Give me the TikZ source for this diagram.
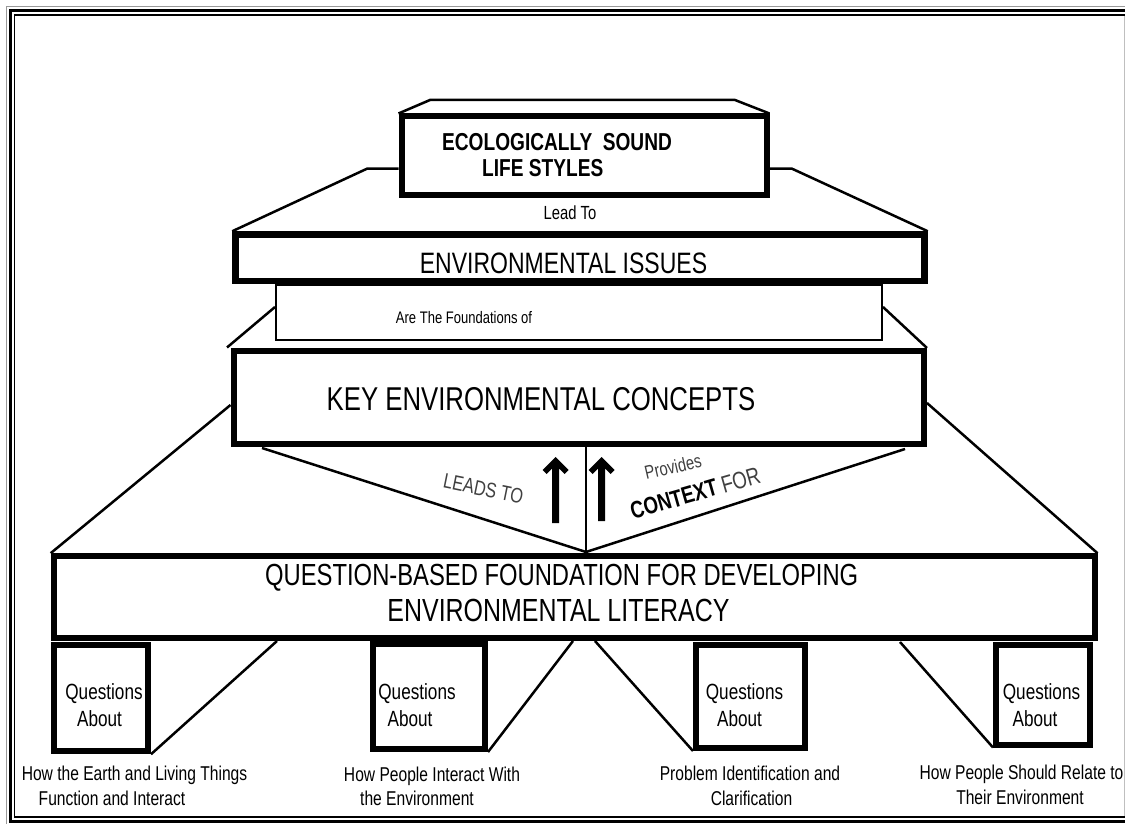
\documentclass[tikz,border=0pt]{standalone}
\usepackage{fontspec}
\setmainfont{Liberation Sans}[FakeStretch=0.78]
\newcommand\fsz[1]{\fontsize{#1}{#1}\selectfont}
\tikzset{
  box/.style={draw, line width=6pt, inner sep=0pt},
  thinbox/.style={draw, line width=2pt, inner sep=0pt},
  conn/.style={line width=2.5pt},
  lbl/.style={inner sep=0pt, anchor=base},
  qtext/.style={lbl, font=\fsz{22}},
  btext/.style={lbl, font=\fsz{20}},
  uparrow/.style={fill=black}
}
\begin{document}
\begin{tikzpicture}[x=1pt,y=-1pt]
\useasboundingbox (0,0) rectangle (1125,824);
% frame
\draw[black!40, line width=1.2pt] (1125,6.5) -- (6.5,6.5) -- (6.5,824.5) -- (1125,824.5);
\draw[line width=3pt] (1125,10.5) -- (10.5,10.5) -- (10.5,821) -- (1125,821);
\draw[line width=1.6pt] (1125,15) -- (14.5,15) -- (14.5,817) -- (1125,817);
\draw[black!25, line width=1pt] (1124.5,16) -- (1124.5,816);

% top box
\node[box, minimum width=365, minimum height=78.5] (els) at (584,155.75) {};
\draw[conn] (els.north west) -- (430,100) -- (735,100) -- (els.north east);
\node[lbl, anchor=base west, font=\bfseries\fsz{24.5}] (elst1) at (442,150) {ECOLOGICALLY\ \ SOUND};
\node[lbl, anchor=base west, font=\bfseries\fsz{24.5}] (elst2) at (482,176.7) {LIFE STYLES};
\node[lbl, font=\fsz{19}] (leadto) at (570,219.3) {Lead To};

% environmental issues
\node[box, line width=6.5pt, minimum width=689, minimum height=46.5] (ei) at (580,257.75) {};
\node[lbl, font=\fsz{29.5}] (eit) at (563.5,273.3) {ENVIRONMENTAL ISSUES};
\coordinate (lsh) at (367,168.7);
\coordinate (rsh) at (792,168.7);
\draw[conn] (ei.north west) -- (lsh) -- (els.west |- lsh);
\draw[conn] (ei.north east) -- (rsh) -- (els.east |- rsh);

% foundations
\node[thinbox, minimum width=606, minimum height=55] (fd) at (579,312.5) {};
\node[lbl, font=\fsz{16.7}] (fdt) at (464,323.3) {Are The Foundations of};

% key concepts
\node[box, minimum width=690.5, minimum height=93.5] (kec) at (578.75,397.25) {};
\node[lbl, font=\fsz{33}] (kect) at (541,410) {KEY ENVIRONMENTAL CONCEPTS};
\draw[conn] (fd.west |- 0,307) -- (227,347.5);
\draw[conn] (fd.east |- 0,307) -- (927,348);

% question-based foundation
\node[box, minimum width=1040.8, minimum height=81.6] (qb) at (574.1,597) {};
\node[lbl, font=\fsz{30.5}] (qbt1) at (561.7,585) {QUESTION-BASED FOUNDATION FOR DEVELOPING};
\node[lbl, font=\fsz{32}] (qbt2) at (558.5,621.7) {ENVIRONMENTAL LITERACY};
\draw[conn] (kec.west |- 0,405) -- (qb.north west);
\draw[conn] (kec.east |- 0,403) -- (qb.north east);

% V connectors and arrows
\coordinate (vpt) at (586,552);
\draw[conn] (262,448) -- (vpt) -- (905,449);
\draw[conn] (vpt) -- (vpt |- kec.south);
\path[uparrow] (555.5,457) -- (568.5,470) -- (564.5,474) -- (559,468.5) -- (559,523) -- (552,523) -- (552,468.5) -- (546.5,474) -- (542.5,470) -- cycle;
\path[uparrow] (601.5,457) -- (614.5,470) -- (610.5,474) -- (605,468.5) -- (605,521) -- (598,521) -- (598,468.5) -- (592.5,474) -- (588.5,470) -- cycle;
\node[lbl, font=\fsz{21}, rotate=-11.5, text=black!75] (leads) at (482,496) {LEADS TO};
\node[lbl, font=\fsz{19}, rotate=13, text=black!75] (prov) at (674.5,473.5) {Provides};
\node[lbl, rotate=16, font=\fsz{24}] (ctx) at (697.5,501) {\textbf{CONTEXT} {\color{black!75}FOR}};

% small boxes
\node[box, minimum width=94, minimum height=106.5] (q1) at (101,698) {};
\node[box, minimum width=112, minimum height=105] (q2) at (429,696.5) {};
\node[box, minimum width=109, minimum height=103.5] (q3) at (750.5,696.25) {};
\node[box, minimum width=94, minimum height=100] (q4) at (1043,694.5) {};
\node[qtext] (q1a) at (104,699.3) {Questions};
\node[qtext] (q1b) at (99.5,726) {About};
\node[qtext] (q2a) at (417,699.3) {Questions};
\node[qtext] (q2b) at (410,726) {About};
\node[qtext] (q3a) at (744.5,699.3) {Questions};
\node[qtext] (q3b) at (739.5,726) {About};
\node[qtext] (q4a) at (1041.5,699.3) {Questions};
\node[qtext] (q4b) at (1035,726) {About};

% diagonals from small boxes
\coordinate (d1) at (277,641);
\coordinate (d2) at (573,641);
\coordinate (d3) at (595,641);
\coordinate (d4) at (900,642);
\draw[conn] (q1.south east) -- (d1);
\draw[conn] (q2.south east) -- (d2);
\draw[conn] (d3) -- (q3.south west);
\draw[conn] (d4) -- (q4.south west);

% bottom labels
\node[btext] (b1a) at (134.5,780) {How the Earth and Living Things};
\node[btext] (b1b) at (112,805) {Function and Interact};
\node[btext] (b2a) at (432,781) {How People Interact With};
\node[btext] (b2b) at (417,805) {the Environment};
\node[btext] (b3a) at (750,780) {Problem Identification and};
\node[btext] (b3b) at (751.5,805) {Clarification};
\node[btext] (b4a) at (1021.5,779) {How People Should Relate to};
\node[btext] (b4b) at (1020,804) {Their Environment};
\end{tikzpicture}
\end{document}
